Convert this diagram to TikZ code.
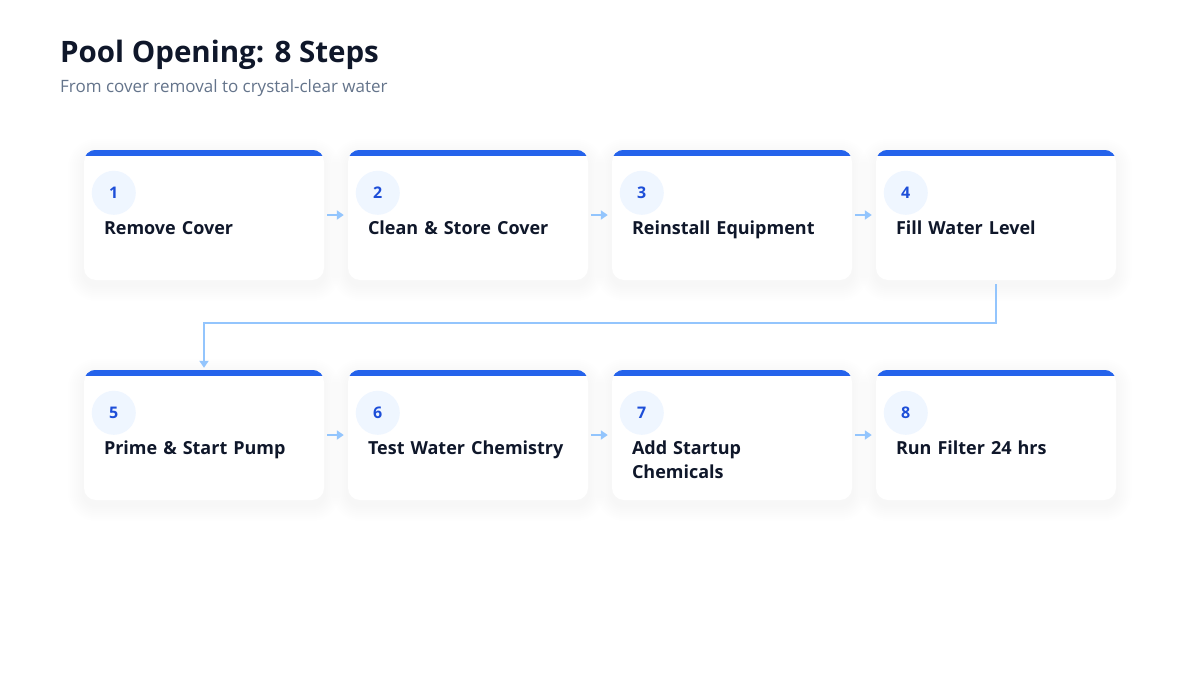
\documentclass[tikz,border=0pt]{standalone}
\usepackage{fontspec}
\setmainfont{Open Sans}
\usetikzlibrary{arrows.meta,calc}
\definecolor{ink}{HTML}{0F172A}
\definecolor{subtxt}{HTML}{64748B}
\definecolor{accent}{HTML}{2563EB}
\definecolor{numclr}{HTML}{1D4ED8}
\definecolor{badgefill}{HTML}{EFF6FF}
\definecolor{connclr}{HTML}{93C5FD}
\tikzset{
  card/.style={rectangle, minimum width=240pt, minimum height=130pt, inner sep=0pt,
    rounded corners=12pt, fill=white},
  numbadge/.style={circle, minimum size=44pt, inner sep=0pt, fill=badgefill,
    text=numclr, font=\fontsize{16}{16}\selectfont\bfseries},
  steptext/.style={anchor=base west, inner sep=0pt, text width=205pt, align=left,
    text=ink, font=\fontsize{18}{23.5}\selectfont\bfseries},
  flow/.style={draw=connclr, line width=2.5pt, -{Triangle[length=7pt,width=9pt]}},
}
\newcommand\stepcard[5]{%
  \foreach \i in {2,4,...,16}{%
    \fill[black, opacity=0.005, rounded corners=12pt+\i pt]
      (#2-120-\i, #3-65-\i+5) rectangle (#2+120+\i, #3+65+\i+5);}
  \node[card] (#1) at (#2,#3) {};
  \begin{scope}
    \clip[rounded corners=12pt] (#1.north west) rectangle (#1.south east);
    \fill[accent] (#1.north west) rectangle ($(#1.north east)+(0,6)$);
  \end{scope}
  \node[numbadge] (#1n) at ($(#1.north west)+(30,43)$) {#4};
  \node[steptext] (#1t) at ($(#1.north west)+(20,85)$) {#5};
}
\begin{document}
\begin{tikzpicture}[x=1pt,y=-1pt]
\useasboundingbox[fill=white] (0,0) rectangle (1200,675);
\node[anchor=base west, inner sep=0pt, text=ink, font=\fontsize{29.5}{31}\selectfont\bfseries] (title) at (60,62) {Pool Opening: 8 Steps};
\node[anchor=base west, inner sep=0pt, text=subtxt, font=\fontsize{17}{19}\selectfont] (subtitle) at (60,92) {From cover removal to crystal-clear water};

\stepcard{c1}{204}{215}{1}{Remove Cover}
\stepcard{c2}{468}{215}{2}{Clean \& Store Cover}
\stepcard{c3}{732}{215}{3}{Reinstall Equipment}
\stepcard{c4}{996}{215}{4}{Fill Water Level}
\stepcard{c5}{204}{435}{5}{Prime \& Start Pump}
\stepcard{c6}{468}{435}{6}{Test Water Chemistry}
\stepcard{c7}{732}{435}{7}{Add Startup\\Chemicals}
\stepcard{c8}{996}{435}{8}{Run Filter 24 hrs}

\draw[flow, shorten <=3pt, shorten >=4pt] (c1.east) -- (c2.west);
\draw[flow, shorten <=3pt, shorten >=4pt] (c2.east) -- (c3.west);
\draw[flow, shorten <=3pt, shorten >=4pt] (c3.east) -- (c4.west);
\draw[flow, shorten <=3pt, shorten >=4pt] (c5.east) -- (c6.west);
\draw[flow, shorten <=3pt, shorten >=4pt] (c6.east) -- (c7.west);
\draw[flow, shorten <=3pt, shorten >=4pt] (c7.east) -- (c8.west);

\coordinate (mid) at (600,323);
\draw[flow, shorten <=4pt, shorten >=2pt] (c4.south) |- (mid) -| (c5.north);
\end{tikzpicture}
\end{document}
